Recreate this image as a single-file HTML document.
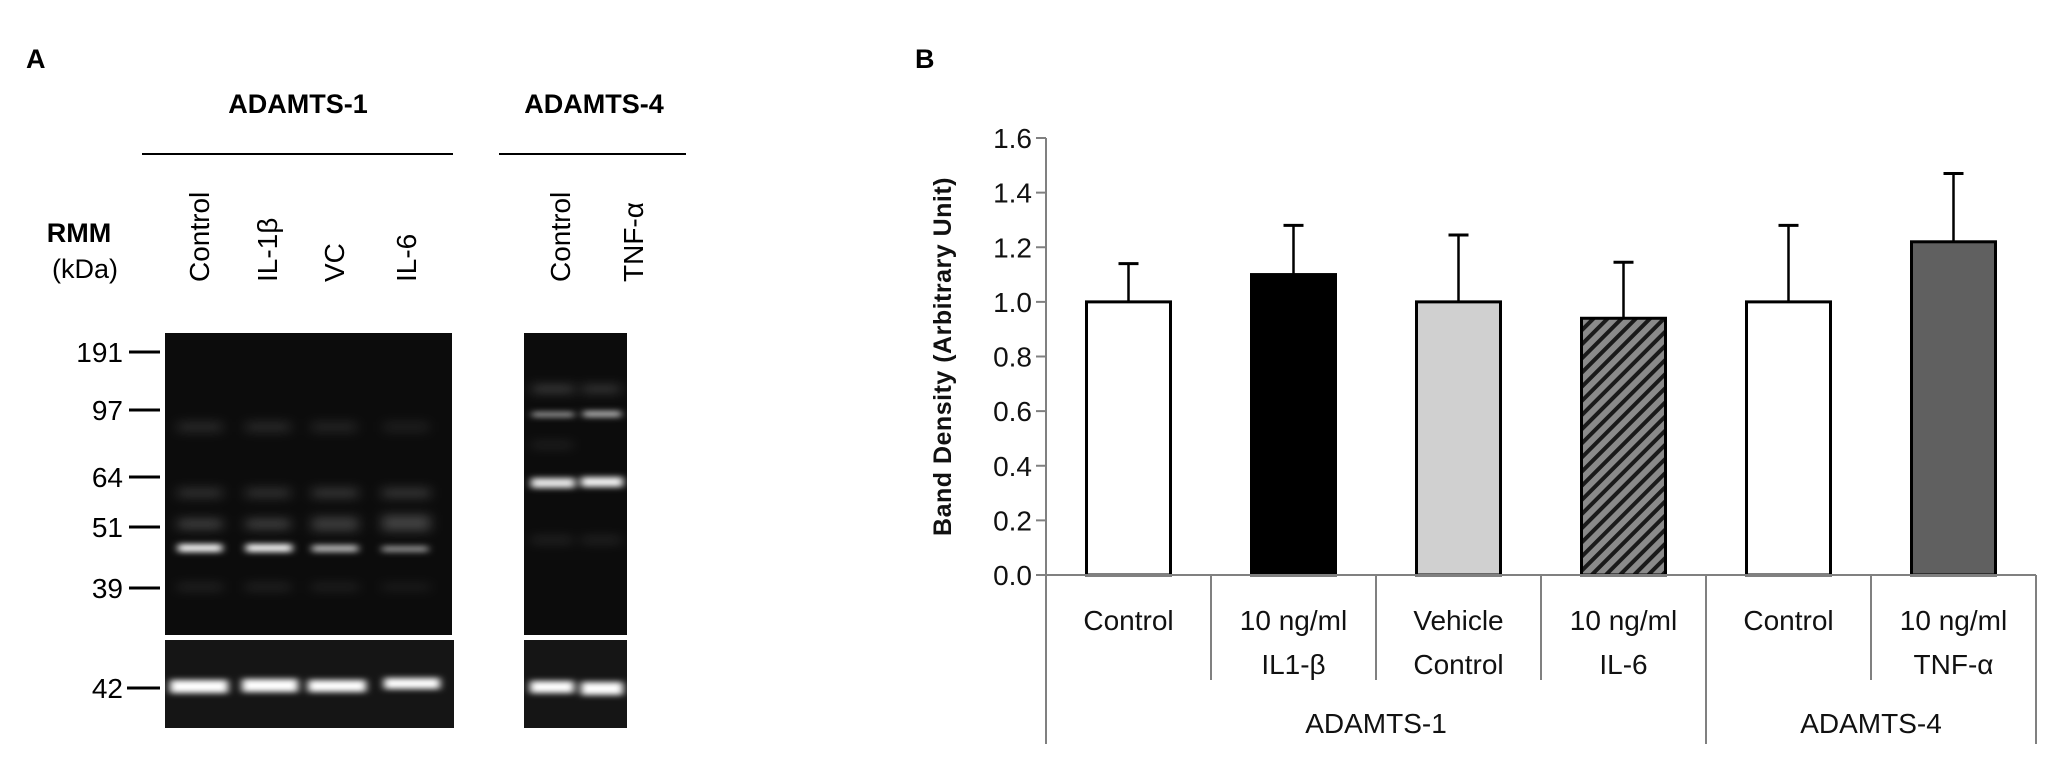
<!DOCTYPE html>
<html><head><meta charset="utf-8">
<style>
html,body{margin:0;padding:0;background:#fff;}
svg{display:block;}
text{font-family:"Liberation Sans",sans-serif;}
</style></head>
<body>
<svg id="fig" width="2055" height="771" viewBox="0 0 2055 771" xmlns="http://www.w3.org/2000/svg">
<defs>
  <filter id="blur3" x="-20%" y="-200%" width="140%" height="500%"><feGaussianBlur stdDeviation="4 3"/></filter>
  <filter id="blur6" x="-20%" y="-300%" width="140%" height="700%"><feGaussianBlur stdDeviation="6 5"/></filter>
  <pattern id="hatch" patternUnits="userSpaceOnUse" width="10" height="10" patternTransform="rotate(45)">
    <rect width="10" height="10" fill="#8a8a8a"/>
    <rect width="4" height="10" fill="#1a1a1a"/>
  </pattern>
</defs>

<g>
  <text x="26" y="68" font-size="27" font-weight="bold">A</text>
  <text x="298" y="113" font-size="27" font-weight="bold" text-anchor="middle">ADAMTS-1</text>
  <line x1="142" y1="154" x2="453" y2="154" stroke="#000" stroke-width="2"/>
  <text x="594" y="113" font-size="27" font-weight="bold" text-anchor="middle">ADAMTS-4</text>
  <line x1="499" y1="154" x2="686" y2="154" stroke="#000" stroke-width="2"/>

  <text x="79" y="242" font-size="27" font-weight="bold" text-anchor="middle">RMM</text>
  <text x="85" y="278" font-size="27" text-anchor="middle">(kDa)</text>

  <g font-size="28">
    <text transform="translate(209,282) rotate(-90)">Control</text>
    <text transform="translate(277,282) rotate(-90)">IL-1β</text>
    <text transform="translate(344,282) rotate(-90)">VC</text>
    <text transform="translate(416,282) rotate(-90)">IL-6</text>
    <text transform="translate(570,282) rotate(-90)">Control</text>
    <text transform="translate(643,282) rotate(-90)">TNF-α</text>
  </g>

  <g font-size="28" text-anchor="end">
    <text x="123" y="362">191</text>
    <text x="123" y="420">97</text>
    <text x="123" y="487">64</text>
    <text x="123" y="537">51</text>
    <text x="123" y="598">39</text>
    <text x="123" y="698">42</text>
  </g>
  <g stroke="#000" stroke-width="3">
    <line x1="129" y1="352" x2="160" y2="352"/>
    <line x1="129" y1="410" x2="160" y2="410"/>
    <line x1="129" y1="477" x2="160" y2="477"/>
    <line x1="129" y1="527" x2="160" y2="527"/>
    <line x1="129" y1="588" x2="160" y2="588"/>
    <line x1="127" y1="688" x2="160" y2="688"/>
  </g>

  <g>
    <rect x="165" y="333" width="287" height="302" fill="#0c0c0c"/>
    <g filter="url(#blur6)" fill="#fff">
      <rect x="178" y="422" width="44" height="10" opacity="0.12"/>
      <rect x="246" y="422" width="44" height="10" opacity="0.12"/>
      <rect x="312" y="422" width="44" height="10" opacity="0.1"/>
      <rect x="384" y="422" width="44" height="10" opacity="0.08"/>
      <rect x="178" y="488" width="44" height="10" opacity="0.15"/>
      <rect x="246" y="488" width="44" height="10" opacity="0.15"/>
      <rect x="312" y="488" width="46" height="10" opacity="0.17"/>
      <rect x="382" y="488" width="48" height="10" opacity="0.17"/>
      <rect x="178" y="519" width="44" height="10" opacity="0.22"/>
      <rect x="246" y="519" width="44" height="10" opacity="0.22"/>
      <rect x="312" y="517" width="46" height="14" opacity="0.2"/>
      <rect x="382" y="515" width="48" height="16" opacity="0.22"/>
      <rect x="178" y="584" width="44" height="6" opacity="0.12"/>
      <rect x="246" y="584" width="44" height="6" opacity="0.12"/>
      <rect x="312" y="584" width="46" height="6" opacity="0.1"/>
      <rect x="382" y="584" width="48" height="6" opacity="0.08"/>
    </g>
    <g filter="url(#blur3)" fill="#fff">
      <rect x="178" y="544" width="44" height="8" opacity="0.95"/>
      <rect x="246" y="544" width="46" height="8" opacity="0.95"/>
      <rect x="312" y="545" width="46" height="7" opacity="0.7"/>
      <rect x="382" y="546" width="46" height="6" opacity="0.55"/>
    </g>
  </g>
  <g>
    <rect x="165" y="640" width="289" height="88" fill="#151515"/>
    <g filter="url(#blur3)" fill="#fff">
      <rect x="170" y="680" width="58" height="13"/>
      <rect x="242" y="679" width="56" height="13"/>
      <rect x="308" y="680" width="58" height="12"/>
      <rect x="384" y="678" width="56" height="11"/>
    </g>
  </g>
  <g>
    <rect x="524" y="333" width="103" height="302" fill="#0c0c0c"/>
    <g filter="url(#blur6)" fill="#fff">
      <rect x="532" y="385" width="42" height="8" opacity="0.2"/>
      <rect x="582" y="385" width="38" height="8" opacity="0.18"/>
      <rect x="532" y="442" width="40" height="6" opacity="0.1"/>
      <rect x="532" y="537" width="40" height="6" opacity="0.12"/>
      <rect x="582" y="537" width="38" height="6" opacity="0.12"/>
    </g>
    <g filter="url(#blur3)" fill="#fff">
      <rect x="532" y="412" width="42" height="5" opacity="0.6"/>
      <rect x="583" y="411" width="38" height="6" opacity="0.7"/>
      <rect x="531" y="478" width="44" height="10" opacity="0.9"/>
      <rect x="581" y="477" width="42" height="10" opacity="0.95"/>
    </g>
  </g>
  <g>
    <rect x="524" y="640" width="103" height="88" fill="#151515"/>
    <g filter="url(#blur3)" fill="#fff">
      <rect x="530" y="681" width="44" height="12"/>
      <rect x="581" y="682" width="42" height="13"/>
    </g>
  </g>
</g>

<text x="915" y="68" font-size="27" font-weight="bold">B</text>
<g id="chart"></g>
</svg>

<script>
const categories = ["Control","10 ng/ml|IL1-β","Vehicle|Control","10 ng/ml|IL-6","Control","10 ng/ml|TNF-α"];
const values = [1.0, 1.10, 1.0, 0.94, 1.0, 1.22];
const errors = [0.14, 0.18, 0.245, 0.205, 0.28, 0.25];
const barFills = ["#ffffff","#000000","#d0d0d0","url(#hatch)","#ffffff","#606060"];
const groups = ["ADAMTS-1","ADAMTS-4"];
const groupSizes = [4, 2];
const yTicks = [0.0,0.2,0.4,0.6,0.8,1.0,1.2,1.4,1.6];

const NS = "http://www.w3.org/2000/svg";
const g = document.getElementById("chart");
const X0 = 1046, X1 = 2036, Y0 = 575, YTOP = 138, YMAX = 1.6;
const catW = (X1 - X0) / categories.length;
const barW = 84;
function yS(v){ return Y0 - (v / YMAX) * (Y0 - YTOP); }
function xC(i){ return X0 + catW * (i + 0.5); }
function mk(tag, attrs){ const e = document.createElementNS(NS, tag); for (const k in attrs) e.setAttribute(k, attrs[k]); g.appendChild(e); return e; }

let ax = mk("line",{x1:X0,y1:YTOP,x2:X0,y2:Y0,stroke:"#808080","stroke-width":2});


yTicks.forEach(t => {
  const y = yS(t);
  const tk = mk("line",{x1:X0-10,y1:y,x2:X0,y2:y,stroke:"#808080","stroke-width":2});
  
  
  const lb = mk("text",{x:X0-14,y:y+10,"font-size":28,"text-anchor":"end",fill:"#111"});
  lb.textContent = t.toFixed(1);
  
  
});
const yt = mk("text",{transform:`translate(951,${(Y0+YTOP)/2}) rotate(-90)`,"font-size":25,"font-weight":"bold","text-anchor":"middle",fill:"#111","letter-spacing":"0.5"});
yt.textContent = "Band Density (Arbitrary Unit)";



values.forEach((v,i) => {
  const cx = xC(i), y = yS(v);
  const b = mk("rect",{x:cx-barW/2,y:y,width:barW,height:Y0-y,fill:barFills[i],stroke:"#000","stroke-width":3});
  
  
  const ye = yS(v + errors[i]);
  const e1 = mk("line",{x1:cx,y1:y,x2:cx,y2:ye,stroke:"#000","stroke-width":2.5});
  
  
  const e2 = mk("line",{x1:cx-10,y1:ye,x2:cx+10,y2:ye,stroke:"#000","stroke-width":3});
  
  
});

const xa = mk("line",{x1:X0,y1:Y0,x2:X1,y2:Y0,stroke:"#808080","stroke-width":2});



let idx = 0;
const groupBounds = [0];
groupSizes.forEach(s => { idx += s; groupBounds.push(idx); });
for (let i = 0; i <= categories.length; i++) {
  const x = X0 + catW * i;
  const isGroup = groupBounds.includes(i);
  const s = mk("line",{x1:x,y1:Y0,x2:x,y2:isGroup?744:680,stroke:"#808080","stroke-width":2});
  
  
}
categories.forEach((c,i) => {
  const lines = c.split("|");
  lines.forEach((ln,j) => {
    const t = mk("text",{x:xC(i),y:630 + j*44,"font-size":28,"text-anchor":"middle",fill:"#111"});
    t.textContent = ln;
    
    
  });
});
groups.forEach((gr,k) => {
  const xm = X0 + catW * (groupBounds[k] + groupBounds[k+1]) / 2;
  const t = mk("text",{x:xm,y:733,"font-size":28,"text-anchor":"middle",fill:"#111"});
  t.textContent = gr;
  
  
});
</script>
</body></html>
